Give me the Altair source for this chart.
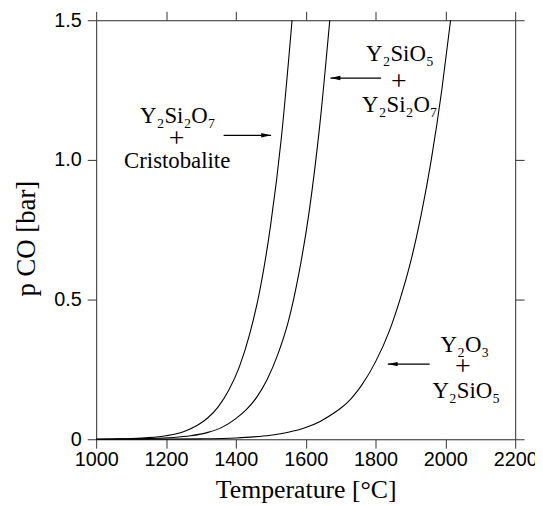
import altair as alt
import pandas as pd

# ---- data ----
c1_T = [1000, 1050, 1100, 1150, 1200, 1250, 1290, 1320, 1350, 1380, 1410, 1440, 1470, 1500, 1530, 1561]
c1_p = [0.0, 0.001, 0.0025, 0.0057, 0.0126, 0.027, 0.050, 0.077, 0.117, 0.176, 0.259, 0.378, 0.541, 0.770, 1.075, 1.5]

c2_T = [1000, 1080, 1150, 1220, 1270, 1320, 1360, 1400, 1430, 1460, 1490, 1520, 1550, 1580, 1610, 1640, 1669]
c2_p = [0.0, 0.0008, 0.0022, 0.006, 0.0123, 0.0247, 0.0425, 0.074, 0.106, 0.151, 0.215, 0.303, 0.420, 0.590, 0.815, 1.12, 1.5]

c3_T = [1000, 1200, 1300, 1400, 1450, 1500, 1550, 1600, 1640, 1680, 1700, 1720, 1740, 1760, 1800, 1840, 1870, 1900, 1930, 1960, 1990, 2015]
c3_p = [0.0, 0.0005, 0.0015, 0.0047, 0.0084, 0.0146, 0.025, 0.042, 0.063, 0.093, 0.111, 0.132, 0.160, 0.193, 0.277, 0.389, 0.500, 0.632, 0.799, 1.003, 1.252, 1.5]

x_ticks = [1000, 1200, 1400, 1600, 1800, 2000, 2200]
y_ticks = [0, 0.5, 1.0, 1.5]

# labels (formula lines), positions in data units
lab_text = ["Y₂Si₂O₇", "Cristobalite", "Y₂SiO₅", "Y₂Si₂O₇", "Y₂O₃", "Y₂SiO₅"]
lab_T = [1234, 1232, 1870, 1870, 2056, 2060]
lab_p = [1.133, 0.971, 1.354, 1.171, 0.311, 0.148]

plus_T = [1230, 1867, 2050]
plus_p = [1.047, 1.252, 0.231]

# arrows: tail, tip, level
arr_T0 = [1365, 1816, 1955]
arr_T1 = [1501, 1671, 1835]
arr_p = [1.088, 1.293, 0.269]
arr_dir = ["right", "left", "left"]

# ---- build ----
rows = []
for name, Ts, ps in (("c1", c1_T, c1_p), ("c2", c2_T, c2_p), ("c3", c3_T, c3_p)):
    for t, p in zip(Ts, ps):
        rows.append({"curve": name, "T": t, "p": p})
curves = pd.DataFrame(rows)

labels = pd.DataFrame({"T": lab_T, "p": lab_p, "text": lab_text})
plus = pd.DataFrame({"T": plus_T, "p": plus_p, "text": ["+"] * 3})
arrows = pd.DataFrame({"T0": arr_T0, "T1": arr_T1, "p": arr_p, "dir": arr_dir})

xscale = alt.Scale(domain=[1000, 2200], nice=False, zero=False)
yscale = alt.Scale(domain=[0, 1.5], nice=False, zero=False)

AX = dict(domainColor="#333", tickColor="#333", domainWidth=1, tickWidth=1, tickSize=9, grid=False)

x_bottom = alt.Axis(values=x_ticks, title="Temperature [°C]", format="d",
                    labelFont="Liberation Sans", labelFontSize=20, labelColor="black", labelPadding=2,
                    labelFlush=False, titleFont="Liberation Serif", titleFontSize=26,
                    titleFontWeight="normal", titleColor="black", titlePadding=7, **AX)
y_left = alt.Axis(values=y_ticks, title="p CO [bar]",
                  labelExpr="datum.value == 0 ? '0' : format(datum.value, '.1f')",
                  labelFont="Liberation Sans", labelFontSize=20, labelColor="black", labelPadding=6,
                  labelFlush=False, titleFont="Liberation Serif", titleFontSize=27, titleY=220,
                  titleFontWeight="normal", titleColor="black", titlePadding=13, **AX)
x_top = alt.Axis(values=x_ticks, orient="top", labels=False, title="", **AX)
y_right = alt.Axis(values=y_ticks, orient="right", labels=False, title="", **AX)

lines = alt.Chart(curves).mark_line(color="black", strokeWidth=1.1, interpolate="monotone").encode(
    x=alt.X("T:Q", scale=xscale, axis=x_bottom),
    y=alt.Y("p:Q", scale=yscale, axis=y_left),
    detail="curve:N",
)

frame = alt.Chart(curves).mark_line(opacity=0).encode(
    x=alt.X("T:Q", scale=xscale, axis=x_top),
    y=alt.Y("p:Q", scale=yscale, axis=y_right),
    detail="curve:N",
)

arrow_lines = alt.Chart(arrows).mark_rule(color="black", strokeWidth=1.2).encode(
    x=alt.X("T0:Q", scale=xscale, axis=None),
    x2="T1:Q",
    y=alt.Y("p:Q", scale=yscale, axis=None),
)

head_r = alt.Chart(arrows[arrows["dir"] == "right"]).mark_point(
    shape="M0,0 L-2,-0.45 L-2,0.45 Z", size=100, filled=True, color="black", opacity=1
).encode(x=alt.X("T1:Q", scale=xscale, axis=None), y=alt.Y("p:Q", scale=yscale, axis=None))

head_l = alt.Chart(arrows[arrows["dir"] == "left"]).mark_point(
    shape="M0,0 L2,-0.45 L2,0.45 Z", size=100, filled=True, color="black", opacity=1
).encode(x=alt.X("T1:Q", scale=xscale, axis=None), y=alt.Y("p:Q", scale=yscale, axis=None))

text = alt.Chart(labels).mark_text(font="Liberation Serif", fontSize=23, color="black",
                                   align="center", baseline="alphabetic").encode(
    x=alt.X("T:Q", scale=xscale, axis=None),
    y=alt.Y("p:Q", scale=yscale, axis=None),
    text="text:N",
)

plus_text = alt.Chart(plus).mark_text(font="Liberation Serif", fontSize=28, color="black",
                                      align="center", baseline="alphabetic").encode(
    x=alt.X("T:Q", scale=xscale, axis=None),
    y=alt.Y("p:Q", scale=yscale, axis=None),
    text="text:N",
)

chart = alt.layer(lines, frame, arrow_lines, head_r, head_l, text, plus_text).resolve_axis(
    x="independent", y="independent"
).properties(
    width=423, height=423,
    autosize=alt.AutoSizeParams(type="none"),
    padding={"left": 89, "top": 10, "right": 20, "bottom": 62},
).configure_view(strokeWidth=0).configure(background="white")

chart.save("out.html", embed_options={"renderer": "svg", "actions": False})
